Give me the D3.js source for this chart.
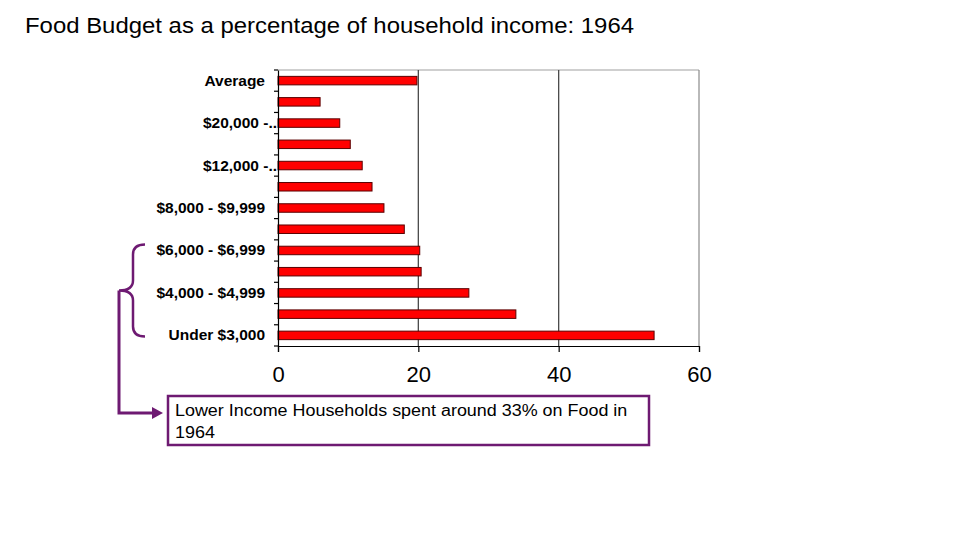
<!DOCTYPE html>
<html><head><meta charset="utf-8">
<script src="https://cdn.jsdelivr.net/npm/d3@7"></script>
<style>body{margin:0;background:#fff}svg{display:block}</style>
</head><body>
<svg id="c" width="960" height="540"></svg>
<script>
const categories = ["Average","$25,000 and over","$20,000 - $24,999","$15,000 - $19,999","$12,000 - $14,999","$10,000 - $11,999","$8,000 - $9,999","$7,000 - $7,999","$6,000 - $6,999","$5,000 - $5,999","$4,000 - $4,999","$3,000 - $3,999","Under $3,000"];
const values = [19.8, 6.0, 8.8, 10.3, 12.0, 13.4, 15.1, 18.0, 20.2, 20.4, 27.2, 33.9, 53.6];
const tickLabels = ["Average","","$20,000 -..","","$12,000 -..","","$8,000 - $9,999","","$6,000 - $6,999","","$4,000 - $4,999","","Under $3,000"];
const xTicks = [0, 20, 40, 60];
const title = "Food Budget as a percentage of household income: 1964";
const noteLines = ["Lower Income Households spent around 33% on Food in", "1964"];

const svg = d3.select("#c");
const L = 278, R = 699, T = 70, B = 346;
const purple = "#6e1a72";
const stretch = 1.12;

const x = d3.scaleLinear().domain([0, 60]).range([L, R]);
const p = 0.6;
const y = d3.scaleBand().domain(categories).range([T, B]).paddingInner(p).paddingOuter(p/2);

const t = svg.append("text").attr("x", 25).attr("y", 33)
  .style("font-family", "Arial, 'Liberation Sans', sans-serif").style("font-size", "22px")
  .attr("fill", "#000").text(title);
t.attr("textLength", 609).attr("lengthAdjust", "spacingAndGlyphs");

// plot frame (top/right)
svg.append("line").attr("x1", L).attr("x2", R).attr("y1", T).attr("y2", T).attr("stroke", "#a0a0a0").attr("stroke-width", 1.2);
svg.append("line").attr("x1", R).attr("x2", R).attr("y1", T).attr("y2", B).attr("stroke", "#8a8a8a").attr("stroke-width", 1.2);

// gridlines
svg.append("g").selectAll("line").data(xTicks.filter(d => d > 0 && d < 60)).join("line")
  .attr("x1", d => x(d)).attr("x2", d => x(d)).attr("y1", T).attr("y2", B)
  .attr("stroke", "#4a4a4a").attr("stroke-width", 1.3);

// bars
svg.append("g").selectAll("rect").data(categories).join("rect")
  .attr("x", x(0)).attr("y", (d) => y(d))
  .attr("width", (d, i) => x(values[i]) - x(0)).attr("height", y.bandwidth())
  .attr("fill", "#ff0000").attr("stroke", "#5a0000").attr("stroke-width", 1);

// x axis
const xa = svg.append("g").attr("transform", `translate(0,${B})`)
  .call(d3.axisBottom(x).tickValues(xTicks).tickSize(6).tickPadding(14));
xa.select(".domain").attr("stroke", "#000").attr("stroke-width", 1.2);
xa.selectAll(".tick line").attr("stroke", "#000").attr("stroke-width", 1.2);
xa.selectAll("text").style("font-family", "Arial, 'Liberation Sans', sans-serif").style("font-size", "22px").attr("fill", "#000");

// y axis
const ya = svg.append("g").attr("transform", `translate(${L},0)`)
  .call(d3.axisLeft(y).tickSize(0).tickPadding(12).tickFormat((d, i) => tickLabels[i]));
ya.select(".domain").attr("stroke", "#000").attr("stroke-width", 1.2);
ya.selectAll("text").style("font-family", "Arial, 'Liberation Sans', sans-serif").style("font-size", "15.5px")
  .style("font-weight", "bold").attr("fill", "#000")
  .attr("x", function() { return d3.select(this).text().endsWith("..") ? -1 : -13; });
// tick marks at band boundaries
const step = y.step();
const bounds = categories.map(c => y(c) - step * p / 2).concat([B]);
ya.selectAll(".bt").data(bounds).join("line").attr("class", "bt")
  .attr("x1", -4).attr("x2", 0).attr("y1", d => d).attr("y2", d => d)
  .attr("stroke", "#000").attr("stroke-width", 1.2);

// bracket
const yTop = y(categories[8]) + y.bandwidth()/2 - 6;
const yBot = y(categories[12]) + y.bandwidth()/2 + 1;
const yMid = (yTop + yBot) / 2;
const brace = d3.path();
brace.moveTo(145, yTop);
brace.quadraticCurveTo(133, yTop, 133, yTop + 10);
brace.lineTo(133, yMid - 10);
brace.quadraticCurveTo(133, yMid, 119, yMid);
brace.quadraticCurveTo(133, yMid, 133, yMid + 10);
brace.lineTo(133, yBot - 10);
brace.quadraticCurveTo(133, yBot, 145, yBot);
svg.append("path").attr("d", brace.toString()).attr("fill", "none").attr("stroke", purple).attr("stroke-width", 2.5);

// connector arrow
const arrowY = 413;
svg.append("path").attr("d", `M119,${yMid} L119,${arrowY} L152,${arrowY}`)
  .attr("fill", "none").attr("stroke", purple).attr("stroke-width", 3);
svg.append("path").attr("d", `M152,${arrowY-6} L163,${arrowY} L152,${arrowY+6} Z`).attr("fill", purple);

// note box
svg.append("rect").attr("x", 168).attr("y", 396).attr("width", 481).attr("height", 49)
  .attr("fill", "#fff").attr("stroke", purple).attr("stroke-width", 2.5);
svg.append("g").selectAll("text").data(noteLines).join("text")
  .attr("x", 175).attr("y", (d, i) => 416 + i * 22)
  .style("font-family", "Arial, 'Liberation Sans', sans-serif").style("font-size", "16px")
  .attr("fill", "#000").text(d => d)
  .each(function() {
    const w = this.getComputedTextLength();
    d3.select(this).attr("textLength", w * stretch).attr("lengthAdjust", "spacingAndGlyphs");
  });
</script>
</body></html>
